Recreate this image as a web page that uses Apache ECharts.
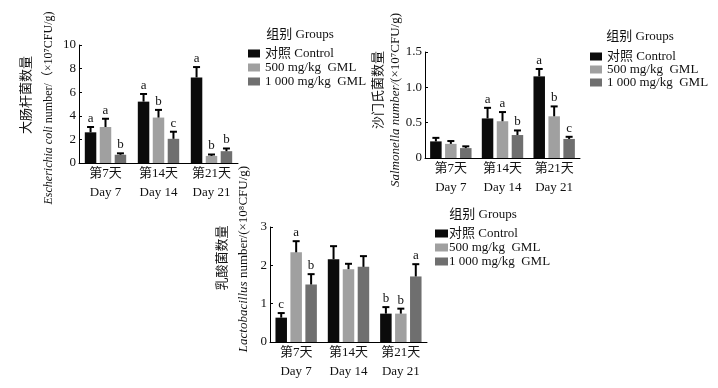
<!DOCTYPE html>
<html><head><meta charset="utf-8">
<script src="https://cdn.jsdelivr.net/npm/echarts@6/dist/echarts.min.js"></script>
<style>html,body{margin:0;padding:0;background:#fff}#c{width:718px;height:388px}</style>
</head><body><div id="c"></div>
<script>
// ---- data ----
const days = ['第7天\nDay 7', '第14天\nDay 14', '第21天\nDay 21'];
const groupNames = ['对照 Control', '500 mg/kg  GML', '1 000 mg/kg  GML'];

// E. coli (×10^7 CFU/g)
const ecoliControl = [2.6, 5.2, 7.25];
const ecoli500 = [3.05, 3.85, 0.6];
const ecoli1000 = [0.7, 2.05, 1.0];
const ecoliErrControl = [0.45, 0.65, 0.88];
const ecoliErr500 = [0.7, 0.65, 0.12];
const ecoliErr1000 = [0.12, 0.6, 0.23];
const ecoliLetControl = ['a', 'a', 'a'];
const ecoliLet500 = ['a', 'b', 'b'];
const ecoliLet1000 = ['b', 'c', 'b'];
const ecoliTicks = [0, 10, 2];

// Salmonella (×10^7 CFU/g)
const salControl = [0.235, 0.56, 1.155];
const sal500 = [0.2, 0.52, 0.59];
const sal1000 = [0.14, 0.325, 0.27];
const salErrControl = [0.05, 0.15, 0.105];
const salErr500 = [0.04, 0.13, 0.14];
const salErr1000 = [0.025, 0.065, 0.03];
const salLetControl = ['', 'a', 'a'];
const salLet500 = ['', 'a', 'b'];
const salLet1000 = ['', 'b', 'c'];
const salTicks = [0, 1.5, 0.5];

// Lactobacillus (×10^8 CFU/g)
const lacControl = [0.635, 2.16, 0.74];
const lac500 = [2.34, 1.9, 0.74];
const lac1000 = [1.5, 1.96, 1.71];
const lacErrControl = [0.12, 0.34, 0.17];
const lacErr500 = [0.29, 0.14, 0.13];
const lacErr1000 = [0.27, 0.28, 0.32];
const lacLetControl = ['c', '', 'b'];
const lacLet500 = ['a', '', 'b'];
const lacLet1000 = ['b', '', 'a'];
const lacTicks = [0, 3, 1];

// ---- style ----
const colors = ['#0b0b0b', '#a0a0a0', '#6f6f6f'];
const serif = '"Liberation Serif","Times New Roman","Noto Sans CJK SC",serif';
const FS = 13;
const BW = 11.5, GAP = 0.3;

const grids = [
  {left: 79, top: 45, width: 159, height: 118},
  {left: 425, top: 52, width: 155, height: 106},
  {left: 270, top: 227, width: 157, height: 115}
];

const charts = [
  {vals: [ecoliControl, ecoli500, ecoli1000], errs: [ecoliErrControl, ecoliErr500, ecoliErr1000], lets: [ecoliLetControl, ecoliLet500, ecoliLet1000], ticks: ecoliTicks, fmt: v => String(v)},
  {vals: [salControl, sal500, sal1000], errs: [salErrControl, salErr500, salErr1000], lets: [salLetControl, salLet500, salLet1000], ticks: salTicks, fmt: v => v === 0 ? '0' : v.toFixed(1)},
  {vals: [lacControl, lac500, lac1000], errs: [lacErrControl, lacErr500, lacErr1000], lets: [lacLetControl, lacLet500, lacLet1000], ticks: lacTicks, fmt: v => String(v)}
];

const xAxis = [], yAxis = [], series = [];
charts.forEach((c, ci) => {
  xAxis.push({
    type: 'category', gridIndex: ci, data: days,
    axisLine: {lineStyle: {color: '#000', width: 1}},
    axisTick: {show: false},
    axisLabel: {color: '#111', fontFamily: serif, fontSize: FS, lineHeight: 19, margin: 1}
  });
  yAxis.push({
    type: 'value', gridIndex: ci, min: c.ticks[0], max: c.ticks[1], interval: c.ticks[2],
    axisLine: {show: true, lineStyle: {color: '#000', width: 1}},
    axisTick: {show: true, inside: true, length: 3, lineStyle: {color: '#000'}},
    splitLine: {show: false},
    axisLabel: {color: '#111', fontFamily: serif, fontSize: FS, margin: 3, formatter: c.fmt}
  });
  c.vals.forEach((arr, gi) => {
    series.push({
      type: 'bar', name: groupNames[gi], xAxisIndex: ci, yAxisIndex: ci,
      data: arr, barWidth: BW, barGap: (GAP * 100) + '%',
      itemStyle: {color: colors[gi]}, z: 2
    });
    const data = arr.map((v, i) => [i, v, c.errs[gi][i], c.lets[gi][i]]);
    series.push({
      type: 'custom', xAxisIndex: ci, yAxisIndex: ci, z: 5, silent: true,
      data: data, encode: {x: 0, y: 1},
      renderItem: (params, api) => {
        const x = api.value(0), v = api.value(1), e = api.value(2);
        const letter = c.lets[gi][x];
        const p0 = api.coord([x, v]);
        const p1 = api.coord([x, v + e]);
        const off = (gi - 1) * BW * (1 + GAP);
        const cx = p0[0] + off;
        return {
          type: 'group', children: [
            {type: 'line', shape: {x1: cx, y1: p0[1], x2: cx, y2: p1[1]}, style: {stroke: '#000', lineWidth: 2}},
            {type: 'line', shape: {x1: cx - 3.5, y1: p1[1], x2: cx + 3.5, y2: p1[1]}, style: {stroke: '#000', lineWidth: 2}},
            {type: 'text', x: cx, y: p1[1] - 2, style: {text: letter, fill: '#111', font: FS + 'px ' + serif, textAlign: 'center', textVerticalAlign: 'bottom'}}
          ]
        };
      }
    });
  });
});

const legendBase = {
  data: groupNames, orient: 'vertical', icon: 'rect', itemWidth: 12, itemHeight: 8, itemGap: 1, padding: 0,
  textStyle: {fontFamily: serif, fontSize: FS, color: '#111'}, selectedMode: false
};

function vtext(x, y, txt, size, rich) {
  return {type: 'text', x: x, y: y, rotation: Math.PI / 2,
    style: {text: txt, fill: '#111', font: size + 'px ' + serif, textAlign: 'center', textVerticalAlign: 'middle', rich: rich}};
}
const richIt12 = {i: {fontStyle: 'italic', fontFamily: serif, fontSize: 12, fill: '#111'}};
const richIt13 = {i: {fontStyle: 'italic', fontFamily: serif, fontSize: 13, fill: '#111'}};
function htext(x, y, txt) {
  return {type: 'text', x: x, y: y, style: {text: txt, fill: '#111', font: FS + 'px ' + serif, textAlign: 'center', textVerticalAlign: 'middle'}};
}

const option = {
  animation: false,
  backgroundColor: '#fff',
  grid: grids.map(g => Object.assign({containLabel: false}, g)),
  xAxis: xAxis, yAxis: yAxis, series: series,
  legend: [
    Object.assign({}, legendBase, {left: 248, top: 47}),
    Object.assign({}, legendBase, {left: 590, top: 50, itemGap: 0}),
    Object.assign({}, legendBase, {left: 435, top: 227, itemWidth: 13,
      textStyle: {fontFamily: serif, fontSize: FS, color: '#111', padding: [0, 0, 0, -4]}})
  ],
  graphic: [
    htext(300, 35, '组别 Groups'),
    htext(640, 37, '组别 Groups'),
    htext(483, 215, '组别 Groups'),
    vtext(27, 95, '大肠杆菌数量', 13),
    vtext(49, 108, '{i|Escherichia coli} number/（×10⁷CFU/g)', 12, richIt12),
    vtext(379, 90, '沙门氏菌数量', 13),
    vtext(396, 100, '{i|Salmonella number/}(×10⁷CFU/g)', 13, richIt13),
    vtext(223, 258, '乳酸菌数量', 13),
    vtext(244, 259, '{i|Lactobacillus} number/(×10⁸CFU/g)', 13, richIt13)
  ]
};
const chart = echarts.init(document.getElementById('c'), null, {renderer: 'canvas'});
chart.setOption(option);
</script></body></html>
